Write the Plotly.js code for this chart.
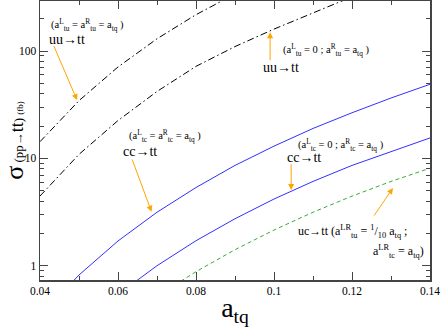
<!DOCTYPE html>
<html>
<head>
<meta charset="utf-8">
<script src="https://cdn.plot.ly/plotly-3.0.1.min.js"></script>
<style>
  html, body { margin: 0; padding: 0; background: #fff; }
  #chart { width: 442px; height: 327px; }
</style>
</head>
<body>
<div id="chart"></div>
<script>
// couplings a_tq
const atq = [0.04, 0.05, 0.06, 0.07, 0.08, 0.09, 0.10, 0.11, 0.12, 0.13, 0.14];

// sigma(pp -> tt) in fb
const uuLR = [14.3, 34.5, 71, 130, 218, 340];                             // a_tu^L = a_tu^R = a_tq
const uuR  = [4.46, 10.9, 22.5, 42, 72, 110, 160, 228, 320];              // a_tu^L = 0
const ccLR = [0.336, 0.82, 1.70, 3.15, 5.35, 8.6, 13.0, 19.0, 26.6, 36.5, 49]; // a_tc^L = a_tc^R = a_tq
const ccR  = [0.54, 1.0, 1.71, 2.74, 4.18, 6.1, 8.6, 11.6, 15.5];          // a_tc^L = 0, from 0.06
const ucLR = [0.52, 0.88, 1.41, 2.15, 3.15, 4.45, 6.1, 8.1];               // uc -> tt, from 0.07

const FONT = '"Liberation Serif", serif';
const BLUE = '#3030ff';
const GREEN = '#3aab3a';
const ORANGE = '#ffa500';

const traces = [
    { x: atq.slice(0, uuLR.length), y: uuLR, type: 'scatter', mode: 'lines',
      line: { color: '#000', width: 1, dash: '7px,3px,1.5px,3px' } },
    { x: atq.slice(0, uuR.length), y: uuR, type: 'scatter', mode: 'lines',
      line: { color: '#000', width: 1, dash: '7px,3px,1.5px,3px' } },
    { x: atq, y: ccLR, type: 'scatter', mode: 'lines',
      line: { color: BLUE, width: 1 } },
    { x: atq.slice(2), y: ccR, type: 'scatter', mode: 'lines',
      line: { color: BLUE, width: 1 } },
    { x: atq.slice(3), y: ucLR, type: 'scatter', mode: 'lines',
      line: { color: GREEN, width: 1, dash: '4px,3px' } }
];

function label(x, y, text, size) {
    return { x: x, y: y, xref: 'x', yref: 'y', text: text, showarrow: false,
             xanchor: 'left', yanchor: 'middle', borderpad: 0,
             font: { family: FONT, size: size || 11, color: '#000' } };
}
function arrow(x0, y0, x1, y1) {
    return { x: x1, y: y1, ax: x0, ay: y0, xref: 'x', yref: 'y', axref: 'x', ayref: 'y',
             text: '', showarrow: true, arrowhead: 2, arrowsize: 1.2, arrowwidth: 1,
             arrowcolor: ORANGE, standoff: 0, startstandoff: 0 };
}

const annotations = [
    label(0.0426, 2.245, '(a<sup>L</sup><sub>tu</sub> = a<sup>R</sup><sub>tu</sub> = a<sub>tq</sub> )', 10.5),
    label(0.0421, 2.105, 'uu→tt', 14),
    arrow(0.0434, 2.060, 0.0495, 1.543),

    label(0.1020, 2.010, '(a<sup>L</sup><sub>tu</sub> = 0 ; a<sup>R</sup><sub>tu</sub> = a<sub>tq</sub> )', 10.5),
    label(0.0968, 1.845, 'uu→tt', 14),
    arrow(0.0990, 1.900, 0.0990, 2.176),

    label(0.0625, 1.210, '(a<sup>L</sup><sub>tc</sub> = a<sup>R</sup><sub>tc</sub> = a<sub>tq</sub> )', 10.5),
    label(0.0610, 1.068, 'cc→tt', 14),
    arrow(0.0635, 1.003, 0.0686, 0.503),

    label(0.1058, 1.125, '(a<sup>L</sup><sub>tc</sub> = 0 ; a<sup>R</sup><sub>tc</sub> = a<sub>tq</sub> )', 10.5),
    label(0.1032, 1.010, 'cc→tt', 14),
    arrow(0.1044, 0.960, 0.1044, 0.705),

    label(0.1058, 0.323, 'uc→tt (a<sup>LR</sup><sub>tu</sub> = <sup>1</sup>/<sub>10</sub> a<sub>tq</sub> ;', 12),
    label(0.1250, 0.128, 'a<sup>LR</sup><sub>tc</sub> = a<sub>tq</sub>)', 12),
    arrow(0.1254, 0.453, 0.1305, 0.724)
];

const axisCommon = {
    showline: true, mirror: 'ticks', linecolor: '#444', linewidth: 1.5,
    ticks: 'inside', ticklen: 8, tickwidth: 1, tickcolor: '#444',
    showgrid: false, zeroline: false,
    tickfont: { family: FONT, size: 11.5, color: '#000' }
};

const layout = {
    width: 442, height: 327,
    margin: { l: 40, r: 12, t: 1, b: 47 },
    paper_bgcolor: '#fff', plot_bgcolor: '#fff',
    showlegend: false,
    font: { family: FONT, color: '#000' },
    xaxis: Object.assign({}, axisCommon, {
        range: [0.04, 0.14], dtick: 0.02, tick0: 0.04,
        minor: { ticks: 'inside', ticklen: 4, dtick: 0.01, tickcolor: '#444' },
        title: { text: 'a<sub>tq</sub>', font: { family: FONT, size: 28 }, standoff: 2 }
    }),
    yaxis: Object.assign({}, axisCommon, {
        type: 'log', range: [-0.133, 2.466], dtick: 1,
        minor: { ticks: 'inside', ticklen: 4, dtick: 'D1', tickcolor: '#444' },
        title: { text: '<span style="font-size:26px">σ</span> (pp→<span style="font-size:18px">tt</span>) <span style="font-size:9px">(fb)</span>',
                 font: { family: FONT, size: 13 }, standoff: 4 }
    }),
    annotations: annotations
};

Plotly.newPlot('chart', traces, layout, { displayModeBar: false, staticPlot: true });
</script>
</body>
</html>
